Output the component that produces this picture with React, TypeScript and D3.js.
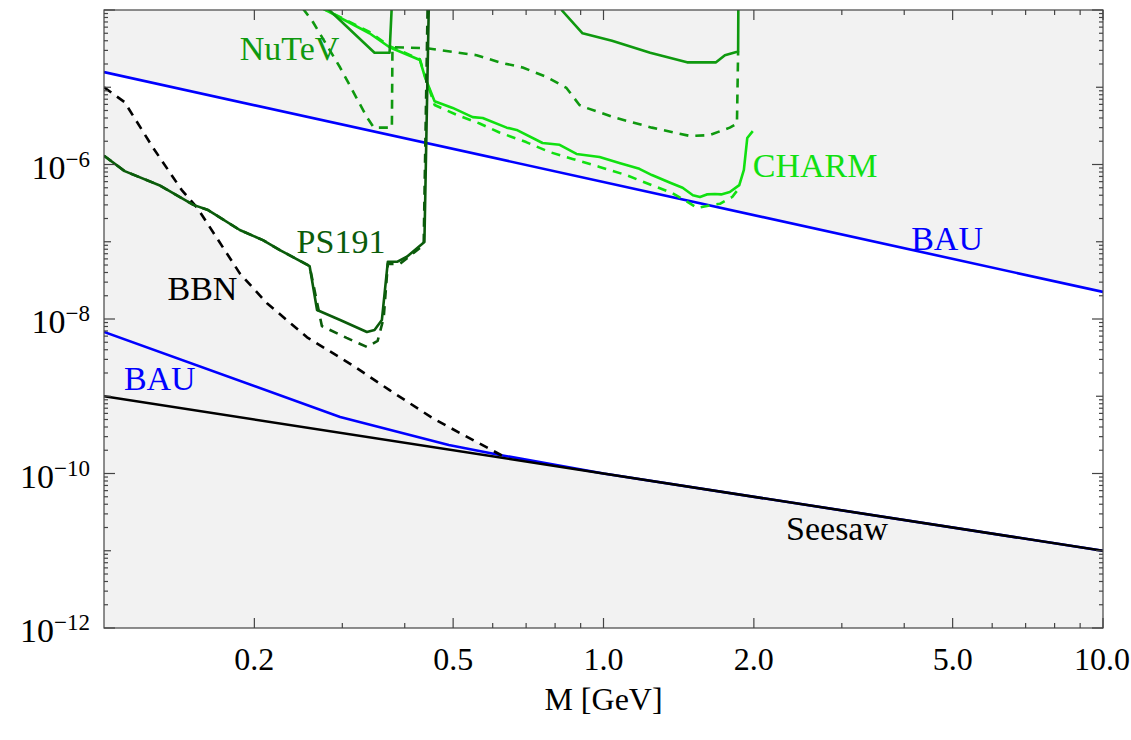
import React from 'react';
import * as d3 from 'd3';

type Pt = [number, number];

// Heavy neutral lepton mixing U^2 versus mass M [GeV]
const massDomain: [number, number] = [0.1, 10];
const mixingDomain: [number, number] = [1e-12, 1e-4];

const xTickValues = [0.2, 0.5, 1, 2, 5, 10];
const xTickText = ['0.2', '0.5', '1.0', '2.0', '5.0', '10.0'];
const xMinorValues = [0.3, 0.4, 0.6, 0.7, 0.8, 0.9, 3, 4, 6, 7, 8, 9];
const yLabelExponents = [-12, -10, -8, -6];
const yDecadeExponents = [-12, -11, -10, -9, -8, -7, -6, -5, -4];

// baryon asymmetry (upper and lower bounds)
const bauUpper: Pt[] = [[0.1, 1.57e-5], [10, 2.24e-8]];
const bauLower: Pt[] = [
  [0.1, 6.8e-9], [0.297, 5.4e-10], [0.49, 2.34e-10], [0.62, 1.74e-10], [1.0, 1.0e-10], [10, 1.0e-11],
];
// seesaw line
const seesaw: Pt[] = [[0.1, 1e-9], [10, 1e-11]];
// big bang nucleosynthesis
const bbn: Pt[] = [
  [0.1, 1.0e-5], [0.110, 6.4e-6], [0.125, 1.7e-6], [0.143, 4.7e-7], [0.154, 2.7e-7],
  [0.187, 3.9e-8], [0.212, 1.6e-8], [0.255, 5.8e-9], [0.315, 2.5e-9], [0.373, 1.2e-9],
  [0.455, 5.2e-10], [0.532, 3.0e-10], [0.628, 1.69e-10],
];
// PS191
const ps191Solid: Pt[] = [
  [0.1, 1.3e-6], [0.110, 8.2e-7], [0.129, 5.4e-7], [0.151, 3.0e-7], [0.161, 2.6e-7],
  [0.168, 2.2e-7], [0.187, 1.42e-7], [0.208, 1.05e-7], [0.225, 7.8e-8], [0.258, 4.85e-8],
  [0.267, 1.31e-8], [0.297, 9.7e-9], [0.336, 6.8e-9], [0.348, 7.2e-9], [0.360, 9.7e-9],
  [0.370, 5.5e-8], [0.386, 5.5e-8], [0.404, 6.4e-8], [0.438, 9.9e-8], [0.447, 1.2e-4],
];
const ps191Dashed: Pt[] = [
  [0.1, 1.3e-6], [0.110, 8.2e-7], [0.129, 5.4e-7], [0.151, 3.0e-7], [0.161, 2.6e-7],
  [0.168, 2.2e-7], [0.187, 1.42e-7], [0.208, 1.05e-7], [0.225, 7.8e-8], [0.258, 4.85e-8],
  [0.273, 8.1e-9], [0.306, 5.7e-9], [0.336, 4.35e-9], [0.353, 5.2e-9], [0.363, 1.03e-8],
  [0.370, 5.15e-8], [0.391, 5.15e-8], [0.4365, 9.1e-8], [0.4446, 1.2e-4],
];
// NuTeV
const nutevSolidLow: Pt[] = [[0.278, 1.1e-4], [0.348, 2.8e-5], [0.373, 2.8e-5], [0.377, 1.2e-4]];
const nutevSolidHigh: Pt[] = [
  [0.824, 1.0e-4], [0.908, 5.0e-5], [1.04, 4.0e-5], [1.24, 2.8e-5], [1.47, 2.1e-5],
  [1.68, 2.1e-5], [1.75, 2.6e-5], [1.86, 2.9e-5], [1.862, 1.2e-4],
];
const nutevDashed: Pt[] = [
  [0.250, 1.05e-4], [0.262, 7.0e-5], [0.297, 1.8e-5], [0.336, 4.1e-6], [0.347, 3.0e-6],
  [0.377, 3.0e-6], [0.378, 3.3e-5], [0.443, 3.2e-5], [0.476, 3.0e-5], [0.557, 2.6e-5],
  [0.619, 2.1e-5], [0.689, 1.8e-5], [0.769, 1.36e-5], [0.843, 9.8e-6], [0.895, 5.9e-6],
  [0.925, 5.4e-6], [1.06, 4.0e-6], [1.25, 3.0e-6], [1.49, 2.34e-6], [1.63, 2.4e-6],
  [1.79, 3.0e-6], [1.85, 3.4e-6], [1.86, 2.9e-5],
];
// CHARM
const charmSolid: Pt[] = [
  [0.27, 1.1e-4], [0.340, 5.0e-5], [0.373, 3.3e-5], [0.429, 2.25e-5], [0.439, 1.36e-5],
  [0.459, 6.6e-6], [0.499, 5.4e-6], [0.547, 4.1e-6], [0.573, 4.0e-6], [0.640, 3.0e-6],
  [0.670, 2.8e-6], [0.755, 1.9e-6], [0.817, 1.8e-6], [0.883, 1.37e-6], [0.982, 1.25e-6],
  [1.08, 1.04e-6], [1.18, 8.8e-7], [1.25, 7.3e-7], [1.36, 5.8e-7], [1.44, 5.0e-7],
  [1.51, 4.0e-7], [1.56, 3.8e-7], [1.61, 4.1e-7], [1.67, 4.15e-7], [1.72, 4.1e-7],
  [1.79, 4.4e-7], [1.87, 5.4e-7], [1.91, 8.5e-7], [1.94, 2.2e-6], [1.99, 2.7e-6],
];
const charmDashed: Pt[] = [
  [0.27, 1.1e-4], [0.340, 5.2e-5], [0.373, 3.4e-5], [0.429, 2.3e-5], [0.439, 1.4e-5],
  [0.459, 5.9e-6], [0.508, 4.4e-6], [0.565, 3.4e-6], [0.619, 2.6e-6], [0.70, 1.95e-6],
  [0.78, 1.45e-6], [0.867, 1.18e-6], [0.982, 9.3e-7], [1.11, 7.3e-7], [1.25, 5.4e-7],
  [1.37, 4.3e-7], [1.47, 3.3e-7], [1.54, 2.74e-7], [1.65, 3.0e-7], [1.71, 3.1e-7],
  [1.81, 3.8e-7], [1.87, 5.0e-7],
];

const BLUE = '#0000ff';
const DARK_GREEN = '#0b5c0b';
const MID_GREEN = '#0f990f';
const LIGHT_GREEN = '#11e011';
const SHADE = '#f2f2f2';
const FONT = "'Liberation Serif', 'Times New Roman', serif";

const frame = { left: 104, right: 1103, top: 10, bottom: 628 };

export default function App() {
  const x = d3.scaleLog().domain(massDomain).range([frame.left, frame.right]);
  const y = d3.scaleLog().domain(mixingDomain).range([frame.bottom, frame.top]);
  const line = d3.line<Pt>().x((d) => x(d[0])).y((d) => y(d[1]));

  // allowed (unshaded) window: below the upper BAU bound, above BBN / lower BAU
  const lastBbnM = bbn[bbn.length - 1][0];
  const lowerEdge: Pt[] = [...bbn, ...bauLower.filter((d) => d[0] > lastBbnM + 0.01)];
  const upperEdge: Pt[] = [...bauUpper].reverse();
  const allowed = line([...lowerEdge, ...upperEdge]) + 'Z';

  const yMinor: number[] = [];
  for (let e = -12; e < -4; e++) for (let k = 2; k <= 9; k++) yMinor.push(k * Math.pow(10, e));

  const lw = 2.6;
  const dash = '9,7';
  const tickColor = '#444';

  return (
    <svg width={1131} height={740} style={{ position: 'absolute', left: 0, top: 0, background: '#fff' }}
      fontFamily={FONT}>
      <defs>
        <clipPath id="plotClip">
          <rect x={frame.left} y={frame.top} width={frame.right - frame.left} height={frame.bottom - frame.top} />
        </clipPath>
      </defs>

      <rect x={frame.left} y={frame.top} width={frame.right - frame.left} height={frame.bottom - frame.top} fill={SHADE} />

      <g clipPath="url(#plotClip)" fill="none" strokeLinejoin="round">
        <path d={allowed} fill="#fff" stroke="none" />
        <path d={line(bauLower)!} stroke={BLUE} strokeWidth={lw} />
        <path d={line(seesaw)!} stroke="#000" strokeWidth={lw} />
        <path d={line(bbn)!} stroke="#000" strokeWidth={lw} strokeDasharray={dash} />
        <path d={line(bauUpper)!} stroke={BLUE} strokeWidth={lw} />
        <path d={line(charmDashed)!} stroke={LIGHT_GREEN} strokeWidth={lw} strokeDasharray={dash} />
        <path d={line(charmSolid)!} stroke={LIGHT_GREEN} strokeWidth={lw} />
        <path d={line(nutevDashed)!} stroke={MID_GREEN} strokeWidth={lw} strokeDasharray={dash} />
        <path d={line(nutevSolidLow)!} stroke={MID_GREEN} strokeWidth={lw} />
        <path d={line(nutevSolidHigh)!} stroke={MID_GREEN} strokeWidth={lw} />
        <path d={line(ps191Dashed)!} stroke={DARK_GREEN} strokeWidth={lw} strokeDasharray={dash} />
        <path d={line(ps191Solid)!} stroke={DARK_GREEN} strokeWidth={lw} />
      </g>

      {/* curve labels */}
      <g fontSize={34}>
        <text x={x(0.187)} y={y(2.25e-5)} fill={MID_GREEN}>NuTeV</text>
        <text x={x(1.99)} y={y(6.9e-7)} fill={LIGHT_GREEN}>CHARM</text>
        <text x={x(4.13)} y={y(7.8e-8)} fill={BLUE}>BAU</text>
        <text x={x(0.243)} y={y(7.15e-8)} fill={DARK_GREEN}>PS191</text>
        <text x={x(0.134)} y={y(1.76e-8)} fill="#000">BBN</text>
        <text x={x(0.1096)} y={y(1.2e-9)} fill={BLUE}>BAU</text>
        <text x={x(2.32)} y={y(1.38e-11)} fill="#000">Seesaw</text>
      </g>

      {/* frame and ticks */}
      <g stroke={tickColor} strokeWidth={1.2}>
        <rect x={frame.left} y={frame.top} width={frame.right - frame.left} height={frame.bottom - frame.top} fill="none" />
        {xTickValues.map((v) => (
          <g key={'xt' + v}>
            <line x1={x(v)} x2={x(v)} y1={frame.bottom} y2={frame.bottom - 10} />
            <line x1={x(v)} x2={x(v)} y1={frame.top} y2={frame.top + 10} />
          </g>
        ))}
        {xMinorValues.map((v) => (
          <g key={'xm' + v}>
            <line x1={x(v)} x2={x(v)} y1={frame.bottom} y2={frame.bottom - 5} />
            <line x1={x(v)} x2={x(v)} y1={frame.top} y2={frame.top + 5} />
          </g>
        ))}
        {yDecadeExponents.map((e) => {
          const yy = y(Math.pow(10, e));
          const len = e % 2 === 0 ? 11 : 7;
          return (
            <g key={'yt' + e}>
              <line x1={frame.left} x2={frame.left + len} y1={yy} y2={yy} />
              <line x1={frame.right} x2={frame.right - len} y1={yy} y2={yy} />
            </g>
          );
        })}
        {yMinor.map((v, i) => (
          <g key={'ym' + i}>
            <line x1={frame.left} x2={frame.left + 4} y1={y(v)} y2={y(v)} />
            <line x1={frame.right} x2={frame.right - 4} y1={y(v)} y2={y(v)} />
          </g>
        ))}
      </g>

      {/* tick labels */}
      <g fill="#000">
        {xTickValues.map((v, i) => (
          <text key={'xl' + v} x={Math.min(x(v), 1102)} y={670} textAnchor="middle" fontSize={32}>{xTickText[i]}</text>
        ))}
        {yLabelExponents.map((e) => (
          <text key={'yl' + e} x={90} y={y(Math.pow(10, e)) + 14} textAnchor="end" fontSize={34}>
            10<tspan fontSize={23} dy={-12}>{'\u2212' + Math.abs(e)}</tspan>
          </text>
        ))}
        <text x={(frame.left + frame.right) / 2} y={710} textAnchor="middle" fontSize={32}>M [GeV]</text>
      </g>
    </svg>
  );
}
